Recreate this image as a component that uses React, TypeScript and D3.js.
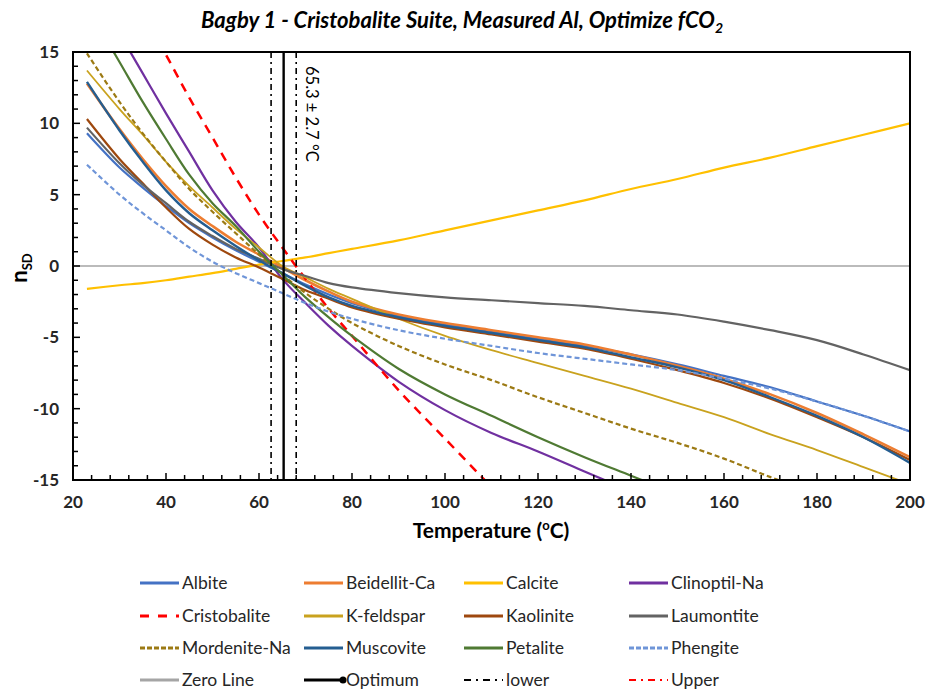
import React from 'react';
import * as d3 from 'd3';

// temperature grid (°C) the curves were read at
const TEMPS = [23, 30, 35, 40, 45, 50, 55, 60, 65, 70, 75, 80, 90, 100, 110, 120, 130, 140, 150, 160, 170, 180, 190, 200];

// n_SD per mineral (null = not drawn)
const albite = [9.3, 6.9, 5.5, 4.2, 3.0, 2.0, 1.1, 0.3, -0.5, -1.3, -2.0, -2.6, -3.5, -4.1, -4.6, -5.1, -5.6, -6.2, -6.9, -7.7, -8.5, -9.5, -10.5, -11.6];
const beidellit = [12.8, 9.6, 7.5, 5.6, 4.0, 2.8, 1.7, 0.8, -0.1, -1.0, -1.8, -2.5, -3.4, -4.0, -4.5, -5.0, -5.5, -6.2, -7.0, -7.9, -9.0, -10.3, -11.8, -13.4];
const calcite = [-1.6, -1.35, -1.2, -1.0, -0.75, -0.5, -0.2, 0.1, 0.35, 0.6, 0.9, 1.2, 1.8, 2.5, 3.2, 3.9, 4.6, 5.4, 6.1, 6.9, 7.6, 8.4, 9.2, 10.0];
const clinoptil = [null, 16.3, 13.5, 10.7, 8.0, 5.3, 3.1, 1.3, -0.9, -2.6, -4.2, -5.6, -8.1, -10.1, -11.7, -13.0, -14.4, -15.8, null, null, null, null, null, null];
const cristobalite = [null, null, 17.7, 14.8, 11.8, 9.0, 6.2, 3.6, 1.3, -0.9, -3.0, -4.9, -8.7, -12.1, -15.5, null, null, null, null, null, null, null, null, null];
const kfeldspar = [13.7, 11.0, 9.2, 7.3, 5.6, 4.1, 2.6, 1.3, 0.0, -0.8, -1.6, -2.3, -3.7, -4.9, -5.9, -6.8, -7.7, -8.6, -9.6, -10.6, -11.8, -12.9, -14.1, -15.3];
const kaolinite = [10.3, 7.5, 5.8, 4.1, 2.6, 1.5, 0.6, -0.1, -0.9, -1.7, -2.3, -2.9, -3.7, -4.3, -4.8, -5.3, -5.8, -6.5, -7.3, -8.2, -9.3, -10.6, -12.0, -13.6];
const laumontite = [9.7, 7.2, 5.7, 4.4, 3.1, 2.1, 1.2, 0.5, -0.2, -0.7, -1.2, -1.5, -1.9, -2.2, -2.4, -2.6, -2.8, -3.1, -3.4, -3.9, -4.5, -5.2, -6.2, -7.3];
const mordenite = [14.9, 11.5, 9.3, 7.3, 5.4, 3.8, 2.3, 0.8, -0.6, -1.9, -3.0, -4.0, -5.6, -6.9, -8.0, -9.2, -10.3, -11.4, -12.4, -13.5, -14.8, -16.0, null, null];
const muscovite = [12.9, 9.5, 7.3, 5.3, 3.7, 2.5, 1.4, 0.4, -0.5, -1.4, -2.2, -2.8, -3.6, -4.2, -4.7, -5.2, -5.7, -6.4, -7.1, -8.0, -9.2, -10.5, -12.0, -13.8];
const petalite = [18.2, 14.3, 11.5, 8.9, 6.4, 4.4, 2.8, 1.0, -0.6, -2.2, -3.6, -4.9, -7.2, -9.0, -10.5, -12.0, -13.4, -14.7, -16.0, null, null, null, null, null];
const phengite = [7.1, 5.0, 3.7, 2.5, 1.3, 0.3, -0.5, -1.2, -1.9, -2.6, -3.2, -3.7, -4.5, -5.1, -5.6, -6.1, -6.5, -6.9, -7.3, -7.9, -8.6, -9.5, -10.5, -11.6];

const OPTIMUM = 65.3;
const LOWER = 62.6;
const UPPER = 68.0;

const X_TICKS = [20, 40, 60, 80, 100, 120, 140, 160, 180, 200];
const Y_TICKS = [15, 10, 5, 0, -5, -10, -15];

const series = [
  { name: 'Albite', values: albite, color: '#4472C4', width: 2.2, dash: null },
  { name: 'Beidellit-Ca', values: beidellit, color: '#ED7D31', width: 2.6, dash: null },
  { name: 'Calcite', values: calcite, color: '#FFC000', width: 2.2, dash: null },
  { name: 'Clinoptil-Na', values: clinoptil, color: '#7030A0', width: 2.2, dash: null },
  { name: 'Cristobalite', values: cristobalite, color: '#FF0000', width: 2.5, dash: '9 7' },
  { name: 'K-feldspar', values: kfeldspar, color: '#C9A21E', width: 1.8, dash: null },
  { name: 'Kaolinite', values: kaolinite, color: '#9E480E', width: 2.2, dash: null },
  { name: 'Laumontite', values: laumontite, color: '#636363', width: 2.2, dash: null },
  { name: 'Mordenite-Na', values: mordenite, color: '#9C7A14', width: 2.2, dash: '5 3' },
  { name: 'Muscovite', values: muscovite, color: '#255E91', width: 2.4, dash: null },
  { name: 'Petalite', values: petalite, color: '#4F7A33', width: 2.2, dash: null },
  { name: 'Phengite', values: phengite, color: '#6F95D8', width: 2.2, dash: '5 3' },
];

const W = 927;
const H = 692;
const M = { left: 73, right: 910, top: 52, bottom: 480 };
const FONT = 'Lato, "Open Sans", sans-serif';

const App = () => {
  const x = d3.scaleLinear().domain([20, 200]).range([M.left, M.right]);
  const y = d3.scaleLinear().domain([-15, 15]).range([M.bottom, M.top]);

  const line = d3.line<any>()
    .defined((d) => d[1] != null)
    .x((d) => x(d[0]))
    .y((d) => y(d[1]))
    .curve(d3.curveCatmullRom.alpha(0.5));

  const xMinor = d3.range(20, 201, 4);
  const yMinor = d3.range(-15, 16, 1);

  // legend layout
  const colText = [182, 346, 506, 671];
  const rowY = [583, 616, 648, 680];
  const legendItems = [
    ...series.map((s) => ({ name: s.name, color: s.color, dash: s.dash ? (s.name === 'Cristobalite' ? '9 9' : '5 2') : null, width: 3, dot: false })),
    { name: 'Zero Line', color: '#A5A5A5', dash: null, width: 3, dot: false },
    { name: 'Optimum', color: '#000000', dash: null, width: 3, dot: true },
    { name: 'lower', color: '#000000', dash: '7 5 2 5', width: 2, dot: false },
    { name: 'Upper', color: '#FF0000', dash: '7 5 2 5', width: 2, dot: false },
  ];

  return (
    <svg width={W} height={H} style={{ display: 'block', position: 'absolute', left: 0, top: 0, background: '#fff' }}
      fontFamily={FONT}>
      <defs>
        <clipPath id="plot">
          <rect x={M.left} y={M.top} width={M.right - M.left} height={M.bottom - M.top} />
        </clipPath>
      </defs>

      {/* title */}
      <text x={462} y={28} textAnchor="middle" fontSize={22} fontWeight="bold" fontStyle="italic" fill="#000">
        Bagby 1 - Cristobalite Suite, Measured Al, Optimize fCO
        <tspan fontSize={14} dy={5}>2</tspan>
      </text>

      {/* zero line */}
      <line x1={M.left} x2={M.right} y1={y(0)} y2={y(0)} stroke="#A5A5A5" strokeWidth={1.5} />

      {/* data */}
      <g clipPath="url(#plot)">
        {series.map((s) => (
          <path key={s.name}
            d={line(TEMPS.map((t, i) => [t, s.values[i]])) || ''}
            fill="none" stroke={s.color} strokeWidth={s.width}
            strokeDasharray={s.dash || undefined} />
        ))}
      </g>

      {/* optimum and bounds */}
      <line x1={x(LOWER)} x2={x(LOWER)} y1={M.top} y2={M.bottom} stroke="#000" strokeWidth={1.6} strokeDasharray="6 4 2 4" />
      <line x1={x(UPPER)} x2={x(UPPER)} y1={M.top} y2={M.bottom} stroke="#000" strokeWidth={1.6} strokeDasharray="6 4 2 4" />
      <line x1={x(OPTIMUM)} x2={x(OPTIMUM)} y1={M.top} y2={M.bottom} stroke="#000" strokeWidth={2.4} />
      <text transform={`translate(${x(UPPER) + 10},${66}) rotate(90)`} fontSize={16.5} fill="#000">
        65.3 ± 2.7 °C
      </text>

      {/* frame */}
      <rect x={M.left} y={M.top} width={M.right - M.left} height={M.bottom - M.top} fill="none" stroke="#000" strokeWidth={2} />

      {/* ticks */}
      {xMinor.map((t) => (
        <line key={'xt' + t} x1={x(t)} x2={x(t)} y1={M.bottom} y2={M.bottom - (t % 20 === 0 ? 7 : 5)} stroke="#000" strokeWidth={1.5} />
      ))}
      {yMinor.map((t) => (
        <line key={'yt' + t} x1={M.left} x2={M.left + (t % 5 === 0 ? 7 : 5)} y1={y(t)} y2={y(t)} stroke="#000" strokeWidth={1.5} />
      ))}
      {X_TICKS.map((t) => (
        <text key={'xl' + t} x={x(t)} y={508} textAnchor="middle" fontSize={17} fontWeight="bold" fill="#262626">{t}</text>
      ))}
      {Y_TICKS.map((t) => (
        <text key={'yl' + t} x={59} y={y(t) + 6} textAnchor="end" fontSize={17} fontWeight="bold" fill="#262626">{t}</text>
      ))}

      {/* axis titles */}
      <text x={491} y={538} textAnchor="middle" fontSize={21} fontWeight="bold" fill="#000">
        Temperature (<tspan fontSize={13} dy={-8}>o</tspan><tspan dy={8}>C)</tspan>
      </text>
      <text transform={`translate(27,${268}) rotate(-90)`} textAnchor="middle" fontSize={22} fontWeight="bold" fill="#000">
        n<tspan fontSize={13} dy={5}>SD</tspan>
      </text>

      {/* legend */}
      {legendItems.map((it, i) => {
        const col = i % 4;
        const row = Math.floor(i / 4);
        const tx = colText[col];
        const ly = rowY[row];
        return (
          <g key={it.name}>
            <line x1={tx - 42} x2={tx - 3} y1={ly} y2={ly} stroke={it.color} strokeWidth={it.width}
              strokeDasharray={it.dash || undefined} />
            {it.dot && <circle cx={tx - 3} cy={ly} r={3.5} fill="#000" />}
            <text x={tx} y={ly + 6} fontSize={17.5} fill="#262626">{it.name}</text>
          </g>
        );
      })}
    </svg>
  );
};

export default App;
